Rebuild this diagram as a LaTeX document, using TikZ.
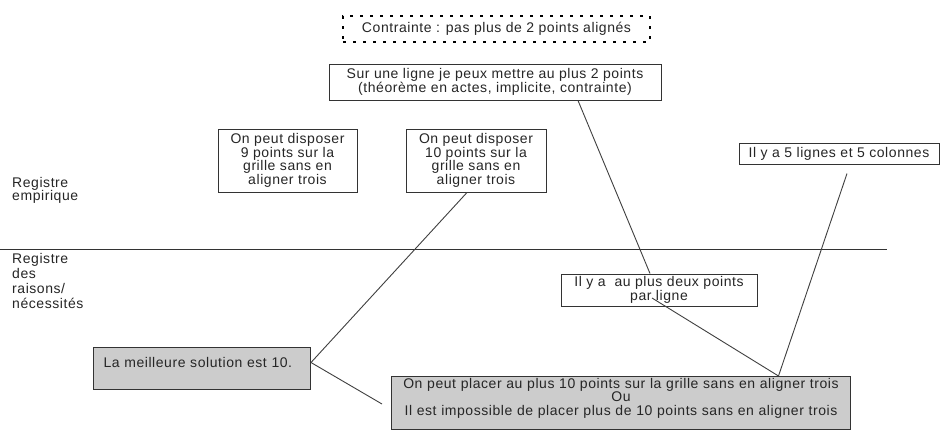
\documentclass[tikz,border=0pt]{standalone}
\usepackage{fontspec}
\setmainfont{Liberation Sans}[LetterSpace=4]
\usepackage{tikz}

\begin{document}
\begin{tikzpicture}[x=1pt,y=-1pt,
        every node/.style = {font=\fontsize{14}{13.5}\selectfont, text=black!85},
        box/.style = {draw=black!80, line width=1pt, fill=white, align=center, inner sep=0pt},
        graybox/.style = {draw=black!80, line width=1pt, fill=black!20, inner ysep=0pt},
        dotbox/.style = {draw, line width=2.8pt, dash pattern=on 2.8pt off 7.2pt, inner sep=0pt},
        link/.style = {draw=black!75, line width=0.9pt},
        register/.style = {align=left, inner sep=0pt, anchor=north west},]
        \useasboundingbox[fill=white] (0,0) rectangle (940,432);

        \node[dotbox, minimum width=307, minimum height=26] (contr) at (496.5,29) {Contrainte : pas plus de 2 points alignés};
        \node[box, minimum width=332, minimum height=36] (sur) at (495,82) {Sur une ligne je peux mettre au plus 2 points\\(théorème en actes, implicite, contrainte)};
        \node[box, minimum width=139, minimum height=63] (nine) at (287.5,160.5) {On peut disposer\\9 points sur la\\grille sans en\\aligner trois};
        \node[box, minimum width=140, minimum height=63] (ten) at (476,160.5) {On peut disposer\\10 points sur la\\grille sans en\\aligner trois};
        \node[box, minimum width=200, minimum height=21] (five) at (839,153.5) {Il y a 5 lignes et 5 colonnes};
        \node[box, minimum width=196, minimum height=32] (deux) at (659,290) {Il y a \ au plus deux points\\par ligne};
        \node[graybox, inner xsep=10pt, text width=197, align=left, text height=19.5, text depth=22.5, anchor=north west] (best) at (93,347) {La meilleure solution est 10.};
        \node[graybox, inner xsep=4pt, text width=451, align=center, text height=11.5, text depth=41, anchor=north west] (sol) at (391,376) {On peut placer au plus 10 points sur la grille sans en aligner trois\\Ou\\Il est impossible de placer plus de 10 points sans en aligner trois};

        % registres
        \node[register] (emp) at (12,177) {Registre\\empirique};
        \node[register, font=\fontsize{14}{15}\selectfont] (rais) at (12,253) {Registre\\des\\raisons/\\nécessités};
        \draw[black!80, line width=1pt] (0,249) -- (887,249);

        \coordinate (solleft) at (382,404);
        \draw[link] ([xshift=-9pt]ten.south) -- ([yshift=6pt]best.east);
        \draw[link] ([yshift=6pt]best.east) -- (solleft);
        \draw[link] ([xshift=83pt]sur.south) -- ([xshift=-9pt]deux.north);
        \draw[link] ([xshift=-7pt,yshift=-8pt]deux.center) -- ([xshift=157.5pt]sol.north);
        \draw[link] ([xshift=8pt,yshift=-9pt]five.south) -- ([xshift=157.5pt]sol.north);
    \end{tikzpicture}
\end{document}
